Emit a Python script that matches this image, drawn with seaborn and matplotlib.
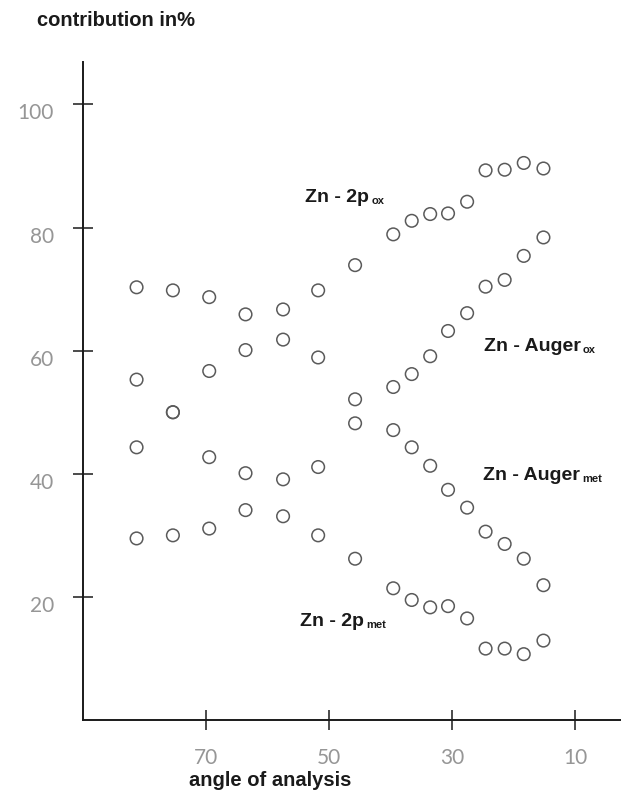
import matplotlib
matplotlib.use("Agg")
import matplotlib.pyplot as plt
import matplotlib.transforms as mtransforms
import numpy as np
import pandas as pd
import seaborn as sns

# angle of analysis (degrees) for each measurement
angle = [81.3, 75.4, 69.5, 63.6, 57.5, 51.8, 45.8, 39.6, 36.6, 33.6,
         30.7, 27.6, 24.6, 21.5, 18.4, 15.2]

# contributions in %
zn_2p_ox = [70.3, 69.8, 68.7, 65.9, 66.7, 69.8, 73.9, 78.9, 81.1, 82.2,
            82.3, 84.2, 89.3, 89.4, 90.5, 89.6]
zn_2p_met = [29.5, 30.0, 31.1, 34.1, 33.1, 30.0, 26.2, 21.4, 19.5, 18.3,
             18.5, 16.5, 11.6, 11.6, 10.7, 12.9]
zn_auger_ox = [55.3, 50.0, 56.7, 60.1, 61.8, 58.9, 52.1, 54.1, 56.2, 59.1,
               63.2, 66.1, 70.4, 71.5, 75.4, 78.4]
zn_auger_met = [44.3, 50.0, 42.7, 40.1, 39.1, 41.1, 48.2, 47.1, 44.3, 41.3,
                37.4, 34.5, 30.6, 28.6, 26.2, 21.9]

x_ticks = [70, 50, 30, 10]
y_ticks = [20, 40, 60, 80, 100]

df = pd.DataFrame({
    "angle": angle * 4,
    "value": zn_2p_ox + zn_2p_met + zn_auger_ox + zn_auger_met,
    "series": (["2p_ox"] * len(angle) + ["2p_met"] * len(angle)
               + ["auger_ox"] * len(angle) + ["auger_met"] * len(angle)),
})

sns.set_style("white")
plt.rcParams["font.family"] = ["Liberation Sans", "DejaVu Sans"]

fig = plt.figure(figsize=(6.21, 7.94), dpi=100)
ax = fig.add_axes([0.1337, 0.0932, 1.0 - 0.1337, 0.9219 - 0.0932])

sns.scatterplot(data=df, x="angle", y="value", ax=ax, marker="o", s=82,
                facecolors="none", edgecolor="#5a5a5a", linewidth=1.1,
                legend=False, zorder=3)

ax.set_xlim(90, 2.6)
ax.set_ylim(0, 106.9)

for side in ("top", "right"):
    ax.spines[side].set_visible(False)
for side in ("left", "bottom"):
    ax.spines[side].set_color("#1a1a1a")
    ax.spines[side].set_linewidth(1.4)

ax.set_xticks(x_ticks)
ax.set_yticks(y_ticks)
ax.set_xticklabels([str(t) for t in x_ticks])
ax.set_yticklabels([str(t) for t in y_ticks])
ax.tick_params(axis="both", which="major", bottom=True, left=True,
               direction="inout", length=14, width=1.1,
               color="#1a1a1a", labelsize=15, labelcolor="#969696")
ax.tick_params(axis="x", pad=13)
ax.tick_params(axis="y", pad=14)
for lab in ax.get_xticklabels() + ax.get_yticklabels():
    lab.set_fontfamily(["Lato", "DejaVu Sans"])
    lab.set_fontweight("normal")
# y labels sit a little below their ticks
shift = mtransforms.ScaledTranslation(0, -7 / 100, fig.dpi_scale_trans)
for lab in ax.get_yticklabels():
    lab.set_transform(lab.get_transform() + shift)

ax.set_xlabel("")
ax.set_ylabel("")

fig.text(37 / 621, 1 - 20 / 794, "contribution in%", fontsize=14.5,
         fontweight="bold", color="#1a1a1a", ha="left", va="center")
fig.text(270 / 621, 1 - 781 / 794, "angle of analysis", fontsize=14.5,
         fontweight="bold", color="#1a1a1a", ha="center", va="center")


def series_label(x, y, name, sub):
    """Bold series name with a small bold subscript after it."""
    main = ax.text(x, y, name, fontsize=14, fontweight="bold",
                   color="#1a1a1a", ha="left", va="center")
    ax.annotate(sub, xy=(1.0, 0.0), xycoords=main,
                xytext=(1.5, 0.0), textcoords="offset points",
                fontsize=8, fontweight="bold", color="#1a1a1a",
                ha="left", va="bottom")


series_label(53.9, 84.9, "Zn - 2p", "ox")
series_label(24.9, 60.7, "Zn - Auger", "ox")
series_label(25.0, 39.8, "Zn - Auger", "met")
series_label(54.7, 16.0, "Zn - 2p", "met")

fig.savefig("out.png", dpi=100)
